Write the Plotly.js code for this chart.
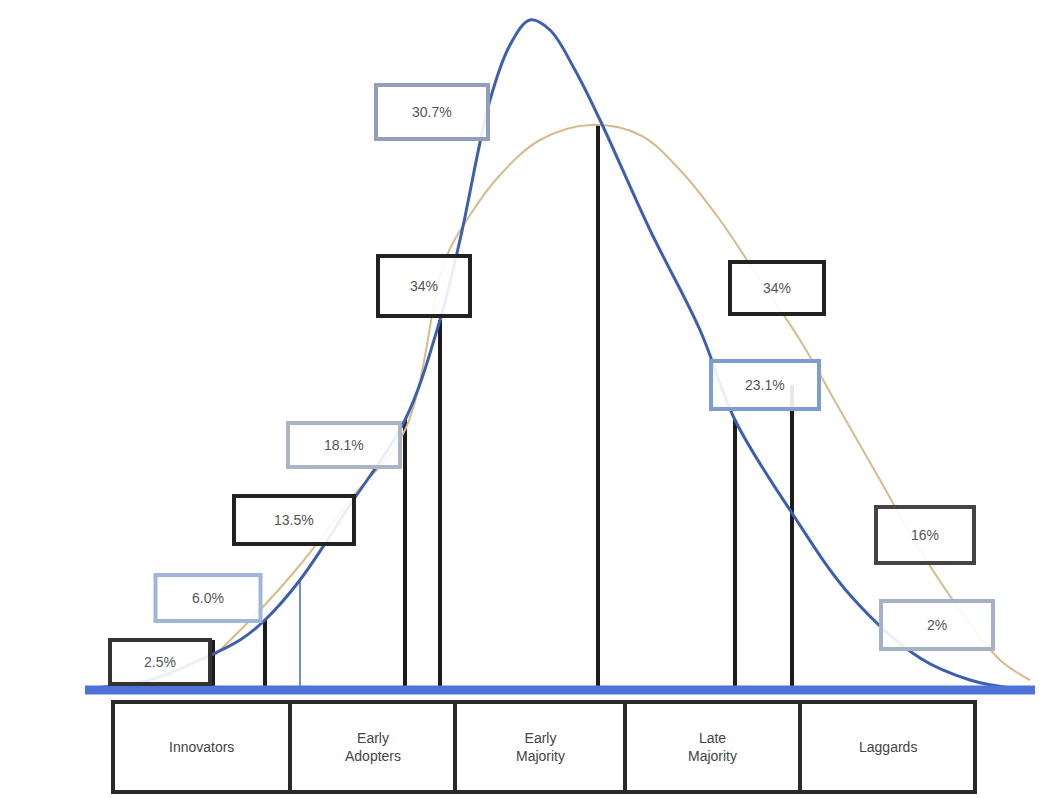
<!DOCTYPE html>
<html>
<head>
<meta charset="utf-8">
<script src="https://cdn.plot.ly/plotly-3.0.1.min.js"></script>
<style>html,body{margin:0;padding:0;background:#fff;}#chart{width:1057px;height:798px;}</style>
</head>
<body>
<div id="chart"></div>
<script>
// Adopter categories
const categories = ["Innovators", "Early<br>Adopters", "Early<br>Majority", "Late<br>Majority", "Laggards"];
const categoryEdges = [113, 290, 455, 625, 800, 975];

// Observed adoption curve (blue), x position vs height above baseline
const blueX = [95, 150, 200, 240, 265, 300, 350, 405, 440, 460, 490, 510, 530, 550, 575, 600, 650, 700, 735, 790, 850, 920, 970, 1010];
const blueY = [2, 10, 30, 50, 70, 110, 185, 270, 370, 450, 590, 645, 670, 660, 620, 570, 460, 360, 270, 180, 95, 32, 10, 2];

// Normal (theoretical) curve (tan)
const tanX = [215, 260, 300, 350, 405, 445, 470, 500, 540, 590, 640, 680, 720, 760, 800, 840, 880, 920, 960, 1000, 1030];
const tanY = [35, 80, 125, 190, 260, 430, 475, 515, 550, 565, 555, 520, 470, 410, 350, 280, 210, 140, 80, 30, 10];

// Drop lines (x, top height)
const dropX = [213, 265, 405, 440, 598, 735, 792];
const dropTop = [50, 70, 270, 370, 565, 270, 305];

// Percentage labels
const pctLabels = ["2.5%", "6.0%", "13.5%", "18.1%", "34%", "30.7%", "34%", "23.1%", "16%", "2%"];
const labelX = [160, 208, 294, 344, 424, 432, 777, 765, 925, 937];
const labelY = [28, 92, 170, 245, 404, 578, 402, 305, 155, 65];
const labelW = [100, 105, 120, 112, 92, 112, 94, 108, 98, 112];
const labelH = [44, 46, 48, 44, 60, 54, 52, 48, 56, 48];
const labelBorder = ["#333", "#9fb6d8", "#222", "#a9b4c4", "#222", "#8fa0b8", "#222", "#7f9cd0", "#444", "#a4b2c8"];

const shapes = [];
// drop lines
dropX.forEach((x, i) => {
  shapes.push({type: "line", xref: "x", yref: "y", x0: x, x1: x, y0: 0, y1: dropTop[i],
    line: {color: "#1c1c1c", width: 4}, layer: "below"});
});
// thin blue lines from labels to curve
shapes.push({type: "line", xref: "x", yref: "y", x0: 300, x1: 300, y0: 0, y1: 110, line: {color: "#6f8fd0", width: 2}, layer: "below"});
// baseline
shapes.push({type: "line", xref: "x", yref: "y", x0: 85, x1: 1035, y0: 0, y1: 0, line: {color: "#4f72d6", width: 9}});
// category boxes
for (let i = 0; i < categories.length; i++) {
  shapes.push({type: "rect", xref: "x", yref: "y", x0: categoryEdges[i], x1: categoryEdges[i + 1], y0: -12, y1: -102,
    line: {color: "#2a2a2a", width: 4}, fillcolor: "rgba(255,255,255,0)"});
}
// label boxes
pctLabels.forEach((t, i) => {
  shapes.push({type: "rect", xref: "x", yref: "y",
    x0: labelX[i] - labelW[i] / 2, x1: labelX[i] + labelW[i] / 2,
    y0: labelY[i] - labelH[i] / 2, y1: labelY[i] + labelH[i] / 2,
    line: {color: labelBorder[i], width: 4}, fillcolor: "rgba(255,255,255,0.9)"});
});

const annotations = [];
pctLabels.forEach((t, i) => {
  annotations.push({x: labelX[i], y: labelY[i], xref: "x", yref: "y", text: t, showarrow: false,
    font: {family: "Liberation Sans, Arial, sans-serif", size: 14, color: "#555"}});
});
categories.forEach((c, i) => {
  annotations.push({x: (categoryEdges[i] + categoryEdges[i + 1]) / 2, y: -57, xref: "x", yref: "y", text: c, showarrow: false,
    font: {family: "Liberation Sans, Arial, sans-serif", size: 14, color: "#444"}});
});

const traces = [
  {x: tanX, y: tanY, mode: "lines", line: {color: "#d8b98a", width: 2, shape: "spline"}, hoverinfo: "skip"},
  {x: blueX, y: blueY, mode: "lines", line: {color: "#3d5fae", width: 3, shape: "spline"}, hoverinfo: "skip"}
];

const layout = {
  width: 1057, height: 798,
  margin: {l: 0, r: 0, t: 0, b: 0},
  paper_bgcolor: "#fff", plot_bgcolor: "#fff",
  showlegend: false,
  xaxis: {range: [0, 1057], visible: false, fixedrange: true},
  yaxis: {range: [-108, 690], visible: false, fixedrange: true},
  shapes: shapes,
  annotations: annotations
};

Plotly.newPlot("chart", traces, layout, {displayModeBar: false, staticPlot: true});
</script>
</body>
</html>
